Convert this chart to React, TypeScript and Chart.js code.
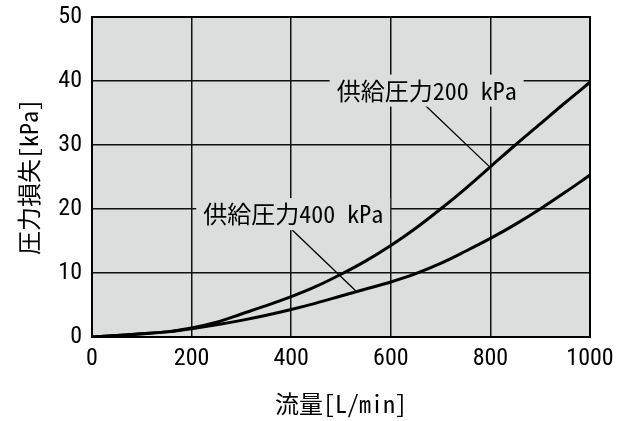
import { useEffect, useRef } from "react";
import { Chart, registerables } from "chart.js";

Chart.register(...registerables);

// ---- data ----
const flowLpm = [0, 50, 100, 150, 200, 250, 300, 350, 400, 450, 500, 550, 600, 650, 700, 750, 800, 850, 900, 950, 1000];
const loss200kPa = [0, 0.25, 0.5, 0.8, 1.4, 2.3, 3.6, 4.9, 6.3, 7.9, 9.8, 11.9, 14.3, 17.0, 20.0, 23.2, 26.6, 30.0, 33.3, 36.6, 39.8];
const loss400kPa = [0, 0.25, 0.5, 0.8, 1.3, 1.9, 2.6, 3.4, 4.3, 5.3, 6.4, 7.5, 8.6, 9.9, 11.5, 13.4, 15.4, 17.6, 20.0, 22.6, 25.3];
const seriesLabels = ["供給圧力200 kPa", "供給圧力400 kPa"];
const xTickValues = [0, 200, 400, 600, 800, 1000];
const yTickValues = [0, 10, 20, 30, 40, 50];
const xTitle = "流量[L/min]";
const yTitle = "圧力損失[kPa]";

// callout anchors in data units: [label x, label y], leader [from x, from y, to x, to y]
const callout200Label = [672, 38.5];
const callout200Leader = [669, 36.2, 797, 26.7];
const callout400Label = [404, 19.2];
const callout400Leader = [401, 16.8, 530, 7.2];

const PLOT_BG = "#dcdddd";
const MONO_CJK = '"Noto Sans Mono CJK JP", "Noto Sans CJK JP", monospace';
const NARROW = '"Roboto Condensed", "Open Sans", sans-serif';

const calloutPlugin = {
  id: "callouts",
  beforeDraw(chart: any) {
    const { ctx, chartArea } = chart;
    ctx.save();
    ctx.fillStyle = PLOT_BG;
    ctx.fillRect(chartArea.left, chartArea.top, chartArea.right - chartArea.left, chartArea.bottom - chartArea.top);
    ctx.restore();
  },
  afterDatasetsDraw(chart: any) {
    const { ctx, scales, chartArea } = chart;
    const xs = scales.x;
    const ys = scales.y;
    const items = [
      { text: seriesLabels[0], at: callout200Label, leader: callout200Leader },
      { text: seriesLabels[1], at: callout400Label, leader: callout400Leader },
    ];
    ctx.save();
    ctx.strokeStyle = "#000";
    ctx.lineWidth = 2;
    ctx.strokeRect(chartArea.left, chartArea.top, chartArea.right - chartArea.left, chartArea.bottom - chartArea.top);
    items.forEach((c) => {
      ctx.beginPath();
      ctx.moveTo(xs.getPixelForValue(c.leader[0]), ys.getPixelForValue(c.leader[1]));
      ctx.lineTo(xs.getPixelForValue(c.leader[2]), ys.getPixelForValue(c.leader[3]));
      ctx.lineWidth = 1.3;
      ctx.strokeStyle = "#000";
      ctx.stroke();
      ctx.font = "24px " + MONO_CJK;
      const w = ctx.measureText(c.text).width;
      const cx = xs.getPixelForValue(c.at[0]);
      const cy = ys.getPixelForValue(c.at[1]);
      ctx.fillStyle = PLOT_BG;
      ctx.fillRect(cx - w / 2 - 7, cy - 16, w + 14, 32);
      ctx.fillStyle = "#000";
      ctx.textAlign = "center";
      ctx.textBaseline = "middle";
      ctx.fillText(c.text, cx, cy);
    });
    ctx.restore();
  },
};

export default function App() {
  const ref = useRef<HTMLCanvasElement | null>(null);
  useEffect(() => {
    document.body.style.margin = "0";
    const canvas = ref.current;
    if (!canvas) return;
    const chart = new Chart(canvas, {
      type: "line",
      data: {
        datasets: [
          {
            label: seriesLabels[0],
            data: flowLpm.map((f, i) => ({ x: f, y: loss200kPa[i] })),
            borderColor: "#000",
            borderWidth: 3,
            pointRadius: 0,
            cubicInterpolationMode: "monotone",
            fill: false,
          },
          {
            label: seriesLabels[1],
            data: flowLpm.map((f, i) => ({ x: f, y: loss400kPa[i] })),
            borderColor: "#000",
            borderWidth: 3,
            pointRadius: 0,
            cubicInterpolationMode: "monotone",
            fill: false,
          },
        ],
      },
      options: {
        responsive: false,
        animation: false,
        devicePixelRatio: 1,
        layout: { padding: { top: 17, right: 40, bottom: 0, left: 0 } },
        plugins: { legend: { display: false }, tooltip: { enabled: false } },
        scales: {
          x: {
            type: "linear",
            min: 0,
            max: 1000,
            afterBuildTicks: (s: any) => {
              s.ticks = xTickValues.map((v) => ({ value: v }));
            },
            afterFit: (s: any) => {
              s.height = 84;
              s.paddingLeft = 0;
              s.paddingRight = 0;
            },
            ticks: { color: "#000", padding: 8, font: { family: NARROW, size: 24 }, maxRotation: 0, callback: (v: any) => String(v) },
            grid: { color: "#111", lineWidth: 1.5, drawTicks: false },
            border: { display: true, color: "#000", width: 2 },
            title: { display: true, text: xTitle, color: "#000", font: { family: MONO_CJK, size: 24 }, padding: { top: 0, bottom: 3 } },
          },
          y: {
            type: "linear",
            min: 0,
            max: 50,
            afterBuildTicks: (s: any) => {
              s.ticks = yTickValues.map((v) => ({ value: v }));
            },
            afterFit: (s: any) => {
              s.width = 92;
              s.paddingTop = 0;
              s.paddingBottom = 0;
            },
            ticks: { color: "#000", padding: 10, font: { family: NARROW, size: 24 }, callback: (v: any) => String(v) },
            grid: { color: "#111", lineWidth: 1.5, drawTicks: false },
            border: { display: true, color: "#000", width: 2 },
            title: { display: true, text: yTitle, color: "#000", font: { family: MONO_CJK, size: 24 }, padding: { top: 14, bottom: 0 } },
          },
        },
      },
      plugins: [calloutPlugin],
    } as any);
    return () => chart.destroy();
  }, []);
  return <canvas ref={ref} width={630} height={421} style={{ display: "block" }} />;
}
